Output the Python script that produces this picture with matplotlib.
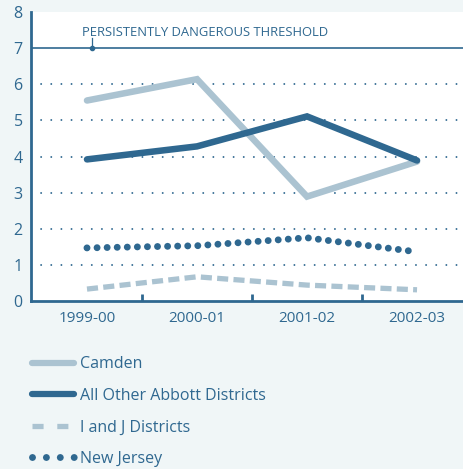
import matplotlib
matplotlib.use("Agg")
import matplotlib.pyplot as plt
from matplotlib.lines import Line2D

years = ["1999-00", "2000-01", "2001-02", "2002-03"]
camden = [5.55, 6.14, 2.89, 3.86]
abbott = [3.92, 4.28, 5.11, 3.89]
i_and_j = [0.33, 0.67, 0.44, 0.31]
new_jersey = [1.47, 1.53, 1.75, 1.36]
threshold = 7
yticks = [0, 1, 2, 3, 4, 5, 6, 7, 8]

DARK = "#2f6890"
LIGHT = "#abc3d1"
BG = "#f0f6f7"

plt.rcParams['font.family'] = ['Open Sans', 'DejaVu Sans']

fig = plt.figure(figsize=(4.64, 4.69), dpi=100, facecolor=BG)
ax = fig.add_axes([31/464, 1-301/469, 1-31/464, (301-12)/469])
ax.set_facecolor("white")

x = list(range(len(years)))
ax.set_xlim(-0.509, 3.427)
ax.set_ylim(0, 8)

for g in [1, 2, 3, 4, 5, 6]:
    ax.axhline(g, color=DARK, lw=1.4, linestyle=(0, (0.01, 5.2)), dash_capstyle='round', zorder=1)
ax.axhline(threshold, color=DARK, lw=1.2, zorder=1)

ax.plot(x, camden, color=LIGHT, lw=4.7, solid_capstyle='round', solid_joinstyle='miter', zorder=3)
ax.plot(x, abbott, color=DARK, lw=4.7, solid_capstyle='round', solid_joinstyle='miter', zorder=4)
ax.plot(x, i_and_j, color=LIGHT, lw=3.8, linestyle=(0, (2.1, 1.0)), dash_capstyle='butt', zorder=3)
ax.plot(x, new_jersey, color=DARK, lw=5, linestyle=(0, (0.001, 1.45)), dash_capstyle='round', zorder=4)

# threshold annotation
ax.text(-0.045, 7.43, "PERSISTENTLY DANGEROUS THRESHOLD", color=DARK, fontsize=9.4,
        ha='left', va='center')
ax.plot([0.045, 0.045], [7.0, 7.28], color=DARK, lw=0.9, zorder=5)
ax.plot([0.045], [7.0], marker='o', ms=3, color=DARK, zorder=5)

for s in ['top', 'right']:
    ax.spines[s].set_visible(False)
for s in ['left', 'bottom']:
    ax.spines[s].set_color(DARK)
    ax.spines[s].set_linewidth(2)

ax.set_yticks(yticks)
ax.set_yticklabels([str(v) for v in yticks])
ax.set_xticks(x)
ax.set_xticklabels(years)
ax.set_xticks([0.5, 1.5, 2.5], minor=True)
ax.tick_params(axis='y', length=0, labelsize=11.5, colors=DARK, pad=6)
ax.tick_params(axis='x', which='major', length=0, labelsize=11, colors=DARK, pad=7)
ax.tick_params(axis='x', which='minor', direction='in', length=5, width=2, color=DARK)

handles = [
    Line2D([], [], color=LIGHT, lw=4.5, solid_capstyle='round'),
    Line2D([], [], color=DARK, lw=4.5, solid_capstyle='round'),
    Line2D([], [], color=LIGHT, lw=3.8, linestyle=(0, (2.1, 2.6)), dash_capstyle='butt'),
    Line2D([], [], color=DARK, lw=5, linestyle=(0, (0.001, 2.0)), dash_capstyle='round'),
]
labels = ["Camden", "All Other Abbott Districts", "I and J Districts", "New Jersey"]
leg = fig.legend(handles, labels, loc='upper left', bbox_to_anchor=(26/464, 1-350/469),
                 frameon=False, fontsize=11.5, handlelength=2.6, handletextpad=0.35,
                 labelspacing=0.97, borderaxespad=0)
for t in leg.get_texts():
    t.set_color(DARK)

fig.savefig("out.png", dpi=100, facecolor=BG)
